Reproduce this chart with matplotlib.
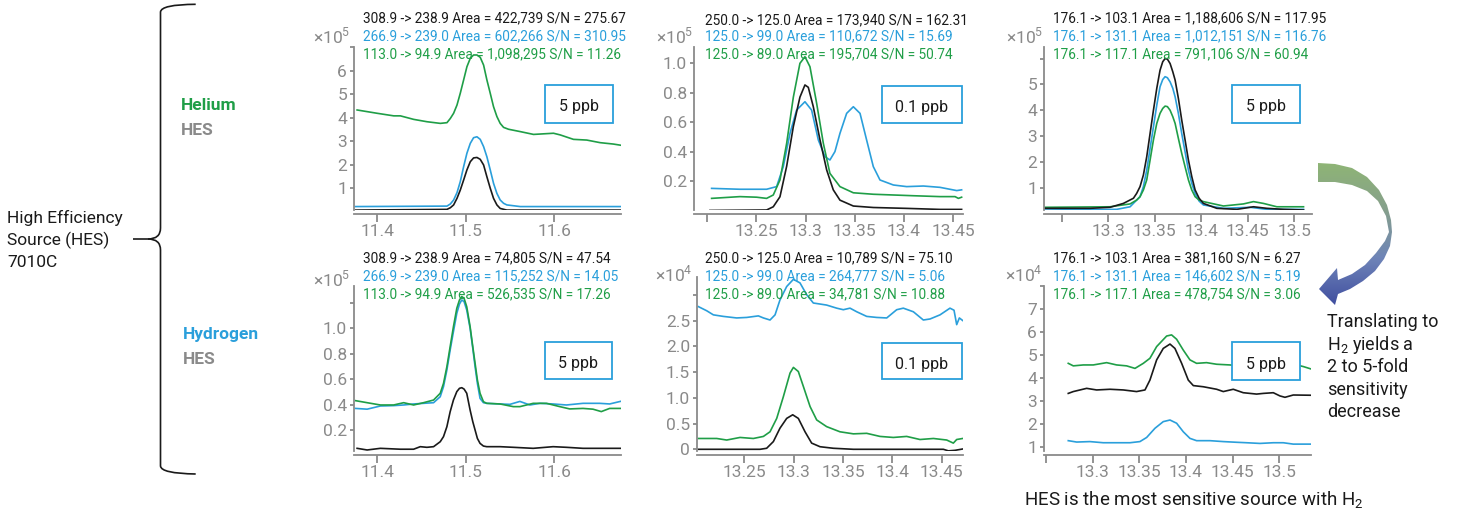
import matplotlib
matplotlib.use('Agg')
import matplotlib.pyplot as plt
import numpy as np
from matplotlib.path import Path
from matplotlib.patches import PathPatch, Rectangle, Polygon
from matplotlib.colors import LinearSegmentedColormap

plt.rcParams['font.family'] = ['Roboto', 'DejaVu Sans']
plt.rcParams['mathtext.fontset'] = 'custom'
plt.rcParams['mathtext.rm'] = 'Roboto'

W, H = 1461, 508
BLACK = '#1a1a1a'
BLUE = '#2a9fdb'
GREEN = '#1f9e47'
GRAY = '#8a8a8a'

# ---------------- data ----------------
# Helium, column 1 (x10^5)
he1_green_x = [11.3775, 11.4, 11.4188, 11.4263, 11.4413, 11.4563, 11.4713, 11.4788, 11.4826, 11.4863, 11.4901,
               11.4938, 11.4976, 11.5013, 11.5051, 11.5088, 11.5126, 11.5163, 11.5201, 11.5238, 11.5276, 11.5313,
               11.5351, 11.5388, 11.5426, 11.5482, 11.5614, 11.5764, 11.5989, 11.6064, 11.6214, 11.6364, 11.6514,
               11.6664, 11.6747]
he1_green_y = [4.32, 4.18, 4.07, 4.07, 3.92, 3.82, 3.75, 3.78, 3.96, 4.18, 4.53, 5.03, 5.60, 6.16, 6.52, 6.66, 6.66,
               6.56, 6.23, 5.60, 5.03, 4.46, 4.04, 3.75, 3.58, 3.50, 3.40, 3.28, 3.33, 3.26, 3.07, 3.04, 2.93, 2.87,
               2.82]
he1_blue_x = [11.3756, 11.4788, 11.4826, 11.4863, 11.4901, 11.4938, 11.4976, 11.5013, 11.5051, 11.5088, 11.5126,
              11.5163, 11.5201, 11.5238, 11.5276, 11.5313, 11.5351, 11.5388, 11.5426, 11.5463, 11.5614, 11.6747]
he1_blue_y = [0.21, 0.23, 0.32, 0.49, 0.80, 1.27, 1.91, 2.48, 2.90, 3.14, 3.18, 3.07, 2.76, 2.33, 1.77, 1.20, 0.77,
              0.49, 0.35, 0.28, 0.21, 0.21]
he1_black_x = [11.3756, 11.4788, 11.4826, 11.4863, 11.4901, 11.4938, 11.4976, 11.5013, 11.5051, 11.5088, 11.5126,
               11.5163, 11.5201, 11.5238, 11.5276, 11.5313, 11.5351, 11.5388, 11.5463, 11.6747]
he1_black_y = [0.06, 0.09, 0.16, 0.28, 0.56, 0.91, 1.34, 1.77, 2.12, 2.28, 2.30, 2.22, 1.98, 1.48, 0.99, 0.56, 0.28,
               0.13, 0.06, 0.06]

# Helium, column 2 (x10^5)
he2_black_x = [13.2027, 13.2603, 13.2671, 13.2739, 13.2807, 13.2875, 13.2942, 13.2993, 13.3027, 13.3078, 13.3146,
               13.3214, 13.3281, 13.3349, 13.3485, 13.3688, 13.4027, 13.4366, 13.4586]
he2_black_y = [0.0, 0.003, 0.025, 0.093, 0.30, 0.57, 0.77, 0.853, 0.837, 0.705, 0.48, 0.275, 0.14, 0.07, 0.03, 0.02,
               0.014, 0.007, 0.007]
he2_green_x = [13.2044, 13.2332, 13.2502, 13.2603, 13.2671, 13.2739, 13.2807, 13.2875, 13.2942, 13.2993, 13.3044,
               13.3112, 13.318, 13.3247, 13.3349, 13.3485, 13.3688, 13.3892, 13.4095, 13.4366, 13.4519, 13.4553, 13.4586]
he2_green_y = [0.082, 0.094, 0.09, 0.082, 0.105, 0.207, 0.456, 0.77, 1.0, 1.045, 0.977, 0.728, 0.456, 0.252, 0.162,
               0.12, 0.11, 0.105, 0.10, 0.094, 0.094, 0.082, 0.09]
he2_blue_x = [13.2044, 13.2332, 13.2603, 13.2705, 13.2773, 13.2841, 13.2908, 13.2993, 13.3061, 13.3129, 13.3197,
              13.3247, 13.3298, 13.3349, 13.3417, 13.3485, 13.3553, 13.3620, 13.3688, 13.3756, 13.3892, 13.4027,
              13.4197, 13.4366, 13.4536, 13.4586]
he2_blue_y = [0.15, 0.144, 0.144, 0.162, 0.298, 0.524, 0.682, 0.739, 0.682, 0.479, 0.365, 0.343, 0.40, 0.524, 0.66,
              0.705, 0.66, 0.479, 0.298, 0.207, 0.173, 0.162, 0.166, 0.157, 0.135, 0.14]

# Helium, column 3 (x10^5)
he3_black_x = [13.2321, 13.2805, 13.302, 13.3163, 13.3271, 13.3306, 13.3342, 13.3378, 13.3414, 13.345, 13.3486,
               13.3522, 13.3557, 13.3586, 13.3611, 13.3636, 13.3665, 13.3694, 13.3719, 13.3754, 13.379, 13.3826,
               13.3862, 13.3898, 13.3934, 13.3977, 13.4023, 13.4167, 13.4382, 13.4561, 13.4704, 13.4884, 13.5099]
he3_black_y = [0.2, 0.2, 0.24, 0.39, 0.59, 0.78, 1.04, 1.49, 2.2, 3.1, 4.0, 4.85, 5.55, 5.88, 6.0, 5.98, 5.81, 5.49,
               5.17, 4.46, 3.62, 2.85, 2.07, 1.43, 0.91, 0.59, 0.39, 0.2, 0.16, 0.26, 0.2, 0.16, 0.135]
he3_blue_x = [13.2321, 13.3091, 13.3235, 13.3306, 13.3342, 13.3378, 13.3414, 13.345, 13.3486, 13.3522, 13.3557,
              13.3586, 13.3611, 13.3636, 13.3665, 13.3694, 13.3719, 13.3754, 13.379, 13.3826, 13.3862, 13.3898,
              13.3934, 13.3977, 13.4023, 13.4238, 13.4525, 13.4704, 13.5099]
he3_blue_y = [0.135, 0.16, 0.26, 0.52, 0.65, 1.04, 1.68, 2.52, 3.36, 4.2, 4.91, 5.19, 5.30, 5.26, 5.10, 4.85, 4.52,
              3.88, 3.10, 2.39, 1.68, 1.17, 0.78, 0.48, 0.33, 0.2, 0.24, 0.16, 0.16]
he3_green_x = [13.2321, 13.302, 13.3235, 13.3306, 13.3342, 13.3378, 13.3414, 13.345, 13.3486, 13.3522, 13.3557,
               13.3586, 13.3611, 13.3636, 13.3665, 13.3694, 13.3719, 13.3754, 13.379, 13.3826, 13.3862, 13.3898,
               13.3934, 13.3977, 13.4023, 13.4238, 13.4453, 13.4561, 13.4668, 13.4812, 13.5099]
he3_green_y = [0.24, 0.26, 0.37, 0.52, 0.65, 0.91, 1.30, 2.07, 2.85, 3.49, 3.88, 4.07, 4.16, 4.14, 4.0, 3.75, 3.49,
               2.91, 2.33, 1.81, 1.30, 0.91, 0.65, 0.52, 0.46, 0.29, 0.37, 0.46, 0.39, 0.26, 0.26]

# Hydrogen, column 1 (x10^5)
h1_green_x = [11.3757, 11.3888, 11.4037, 11.4187, 11.43, 11.4412, 11.4524, 11.4637, 11.4712, 11.4749, 11.4787,
              11.4824, 11.4861, 11.4899, 11.4929, 11.4955, 11.4981, 11.5011, 11.5049, 11.5079, 11.5105, 11.5131,
              11.5161, 11.5199, 11.5236, 11.5386, 11.5536, 11.5610, 11.5760, 11.5910, 11.6060, 11.6172, 11.6322,
              11.6434, 11.6528, 11.6622, 11.6742]
h1_green_y = [0.431, 0.415, 0.397, 0.397, 0.415, 0.397, 0.415, 0.436, 0.489, 0.567, 0.698, 0.856, 1.013, 1.158,
              1.223, 1.25, 1.236, 1.17, 1.013, 0.856, 0.725, 0.594, 0.489, 0.423, 0.41, 0.405, 0.384, 0.384, 0.41,
              0.41, 0.384, 0.366, 0.37, 0.364, 0.345, 0.37, 0.37]
h1_blue_x = [11.3757, 11.3888, 11.4037, 11.4187, 11.43, 11.4412, 11.4524, 11.4637, 11.4712, 11.4749, 11.4787,
             11.4824, 11.4861, 11.4899, 11.4929, 11.4955, 11.4981, 11.5011, 11.5049, 11.5079, 11.5105, 11.5131,
             11.5161, 11.5199, 11.5236, 11.5386, 11.5498, 11.5610, 11.5723, 11.5835, 11.5985, 11.6135, 11.6322,
             11.6509, 11.6622, 11.6742]
h1_blue_y = [0.37, 0.364, 0.389, 0.392, 0.397, 0.405, 0.41, 0.415, 0.462, 0.541, 0.672, 0.829, 0.974, 1.118, 1.191,
             1.223, 1.21, 1.144, 1.0, 0.843, 0.698, 0.567, 0.449, 0.415, 0.41, 0.405, 0.402, 0.425, 0.397, 0.41,
             0.405, 0.397, 0.41, 0.41, 0.405, 0.425]
h1_black_x = [11.3775, 11.3888, 11.4037, 11.4262, 11.4412, 11.4487, 11.4562, 11.4637, 11.4712, 11.4749, 11.4787,
              11.4824, 11.4861, 11.4899, 11.4929, 11.4955, 11.4981, 11.5011, 11.5049, 11.5079, 11.5105, 11.5131,
              11.5161, 11.5199, 11.5236, 11.5386, 11.5536, 11.5760, 11.5985, 11.6135, 11.6322, 11.6509, 11.6742]
h1_black_y = [0.056, 0.043, 0.056, 0.049, 0.049, 0.069, 0.064, 0.069, 0.108, 0.148, 0.226, 0.344, 0.436, 0.502,
              0.528, 0.533, 0.522, 0.489, 0.357, 0.266, 0.2, 0.134, 0.095, 0.074, 0.069, 0.069, 0.064, 0.056, 0.069,
              0.064, 0.056, 0.056, 0.056]

# Hydrogen, column 2 (x10^4)
h2_blue_x = [13.2034, 13.2118, 13.2186, 13.2287, 13.2422, 13.2524, 13.2642, 13.2693, 13.276, 13.2811, 13.2861,
             13.2929, 13.2997, 13.3064, 13.3132, 13.3199, 13.3267, 13.3334, 13.3436, 13.3503, 13.3571, 13.3639,
             13.374, 13.3841, 13.3943, 13.4044, 13.4111, 13.4213, 13.4314, 13.4382, 13.4483, 13.4584, 13.4625,
             13.4652, 13.4679, 13.4713]
h2_blue_y = [2.77, 2.69, 2.61, 2.58, 2.55, 2.56, 2.59, 2.55, 2.51, 2.61, 2.90, 3.16, 3.30, 3.23, 3.0, 2.84, 2.82,
             2.80, 2.74, 2.71, 2.74, 2.67, 2.58, 2.56, 2.55, 2.71, 2.74, 2.67, 2.51, 2.53, 2.61, 2.74, 2.70, 2.42,
             2.55, 2.50]
h2_green_x = [13.2034, 13.222, 13.2321, 13.2456, 13.2591, 13.2693, 13.276, 13.2828, 13.2895, 13.2963, 13.2997,
              13.3047, 13.3098, 13.3166, 13.3233, 13.3334, 13.3469, 13.3605, 13.374, 13.3875, 13.401, 13.4145,
              13.4280, 13.4416, 13.4551, 13.4618, 13.4652, 13.4713]
h2_green_y = [0.21, 0.21, 0.18, 0.23, 0.21, 0.25, 0.34, 0.60, 1.02, 1.48, 1.59, 1.51, 1.22, 0.83, 0.57, 0.44, 0.34,
              0.30, 0.31, 0.25, 0.23, 0.25, 0.19, 0.21, 0.18, 0.12, 0.19, 0.21]
h2_black_x = [13.2034, 13.2659, 13.2726, 13.2794, 13.2861, 13.2929, 13.299, 13.3047, 13.3115, 13.3182, 13.3267,
              13.3402, 13.3605, 13.4145, 13.4517, 13.4568, 13.4635, 13.4713]
h2_black_y = [0.0, 0.0, 0.02, 0.15, 0.41, 0.60, 0.67, 0.60, 0.34, 0.12, 0.05, 0.02, 0.0, 0.0, 0.0, -0.03, -0.02, 0.006]

# Hydrogen, column 3 (x10^4)
h3_green_x = [13.2739, 13.2793, 13.29, 13.3007, 13.315, 13.3257, 13.3364, 13.3454, 13.3543, 13.3614, 13.3686,
              13.3793, 13.3846, 13.39, 13.3971, 13.4043, 13.4114, 13.4221, 13.4329, 13.4471, 13.4579, 13.5186,
              13.5257, 13.5336]
h3_green_y = [4.63, 4.52, 4.56, 4.56, 4.66, 4.56, 4.52, 4.41, 4.63, 4.85, 5.36, 5.82, 5.87, 5.68, 5.21, 4.78, 4.63,
              4.66, 4.59, 4.56, 4.52, 4.56, 4.49, 4.39]
h3_black_x = [13.2739, 13.2793, 13.2936, 13.3043, 13.3186, 13.3329, 13.3471, 13.3561, 13.3614, 13.3686, 13.3757,
              13.3829, 13.3882, 13.3954, 13.4025, 13.4079, 13.4186, 13.4329, 13.44, 13.4507, 13.4614, 13.4757,
              13.4829, 13.4936, 13.5007, 13.5061, 13.515, 13.5336]
h3_black_y = [3.32, 3.40, 3.54, 3.47, 3.50, 3.47, 3.40, 3.47, 3.90, 4.78, 5.28, 5.47, 5.28, 4.63, 3.90, 3.66, 3.61,
              3.50, 3.40, 3.50, 3.35, 3.29, 3.32, 3.35, 3.21, 3.15, 3.25, 3.24]
h3_blue_x = [13.2739, 13.2829, 13.2971, 13.3114, 13.3257, 13.34, 13.3507, 13.3579, 13.3668, 13.3757, 13.3829, 13.39,
             13.3971, 13.4043, 13.4114, 13.4257, 13.44, 13.4543, 13.465, 13.4793, 13.4936, 13.5043, 13.515, 13.5239,
             13.5336]
h3_blue_y = [1.26, 1.20, 1.22, 1.17, 1.17, 1.17, 1.22, 1.40, 1.80, 2.09, 2.16, 2.02, 1.65, 1.36, 1.26, 1.26, 1.22,
             1.19, 1.17, 1.14, 1.17, 1.17, 1.11, 1.11, 1.11]

# header annotations: black / blue / green transitions
he1_labels = ['308.9 -> 238.9 Area = 422,739 S/N = 275.67',
              '266.9 -> 239.0 Area = 602,266 S/N = 310.95',
              '113.0 -> 94.9 Area = 1,098,295 S/N = 11.26']
he2_labels = ['250.0 -> 125.0 Area = 173,940 S/N = 162.31',
              '125.0 -> 99.0 Area = 110,672 S/N = 15.69',
              '125.0 -> 89.0 Area = 195,704 S/N = 50.74']
he3_labels = ['176.1 -> 103.1 Area = 1,188,606 S/N = 117.95',
              '176.1 -> 131.1 Area = 1,012,151 S/N = 116.76',
              '176.1 -> 117.1 Area = 791,106 S/N = 60.94']
h1_labels = ['308.9 -> 238.9 Area = 74,805 S/N = 47.54',
             '266.9 -> 239.0 Area = 115,252 S/N = 14.05',
             '113.0 -> 94.9 Area = 526,535 S/N = 17.26']
h2_labels = ['250.0 -> 125.0 Area = 10,789 S/N = 75.10',
             '125.0 -> 99.0 Area = 264,777 S/N = 5.06',
             '125.0 -> 89.0 Area = 34,781 S/N = 10.88']
h3_labels = ['176.1 -> 103.1 Area = 381,160 S/N = 6.27',
             '176.1 -> 131.1 Area = 146,602 S/N = 5.19',
             '176.1 -> 117.1 Area = 478,754 S/N = 3.06']

conc_labels = ['5 ppb', '0.1 ppb', '5 ppb', '5 ppb', '0.1 ppb', '5 ppb']
exponents = ['5', '5', '5', '5', '4', '4']

x_ticks_11 = [11.4, 11.5, 11.6]
x_labels_11 = ['11.4', '11.5', '11.6']
x_ticks_13a = [13.2, 13.25, 13.3, 13.35, 13.4, 13.45]
x_labels_13a = ['', '13.25', '13.3', '13.35', '13.4', '13.45']
x_ticks_13b = [13.25, 13.3, 13.35, 13.4, 13.45, 13.5]
x_labels_13b = ['', '13.3', '13.35', '13.4', '13.45', '13.5']
x_ticks_13c = [13.25, 13.3, 13.35, 13.4, 13.45]
x_labels_13c = ['13.25', '13.3', '13.35', '13.4', '13.45']

y_ticks = [[1, 2, 3, 4, 5, 6, 7], [0.2, 0.4, 0.6, 0.8, 1.0], [1, 2, 3, 4, 5, 6],
           [0.2, 0.4, 0.6, 0.8, 1.0, 1.2], [0, 0.5, 1.0, 1.5, 2.0, 2.5, 3.0], [1, 2, 3, 4, 5, 6, 7, 8]]
y_labels = [['1', '2', '3', '4', '5', '6', ''], ['0.2', '0.4', '0.6', '0.8', '1.0'], ['1', '2', '3', '4', '5', ''],
            ['0.2', '0.4', '0.6', '0.8', '1.0', ''], ['0', '0.5', '1.0', '1.5', '2.0', '2.5', ''],
            ['1', '2', '3', '4', '5', '6', '7', '']]

# ---------------- figure ----------------
fig = plt.figure(figsize=(W / 100, H / 100), dpi=100)

# pixel boxes (left, right, top, bottom) for each panel
panel_px = [(354, 621, 47, 210), (694, 963, 47, 210), (1044, 1312, 47, 210),
            (354, 621, 286, 451), (697, 963, 277, 451), (1044, 1311, 286, 451)]
xlims = [(11.374, 11.675), (13.1865, 13.46), (13.231, 13.519),
         (11.374, 11.675), (13.202, 13.4716), (13.2479, 13.534)]
ylims = [(0.064, 7.0), (0.003, 1.111), (0.135, 6.45), (0.035, 1.333), (-0.033, 3.345), (0.81, 8.0)]
xt = [(x_ticks_11, x_labels_11), (x_ticks_13a, x_labels_13a), (x_ticks_13b, x_labels_13b),
      (x_ticks_11, x_labels_11), (x_ticks_13c, x_labels_13c), (x_ticks_13b, x_labels_13b)]
series = [
    [(he1_blue_x, he1_blue_y, BLUE), (he1_green_x, he1_green_y, GREEN), (he1_black_x, he1_black_y, BLACK)],
    [(he2_blue_x, he2_blue_y, BLUE), (he2_green_x, he2_green_y, GREEN), (he2_black_x, he2_black_y, BLACK)],
    [(he3_blue_x, he3_blue_y, BLUE), (he3_green_x, he3_green_y, GREEN), (he3_black_x, he3_black_y, BLACK)],
    [(h1_blue_x, h1_blue_y, BLUE), (h1_green_x, h1_green_y, GREEN), (h1_black_x, h1_black_y, BLACK)],
    [(h2_blue_x, h2_blue_y, BLUE), (h2_green_x, h2_green_y, GREEN), (h2_black_x, h2_black_y, BLACK)],
    [(h3_blue_x, h3_blue_y, BLUE), (h3_green_x, h3_green_y, GREEN), (h3_black_x, h3_black_y, BLACK)],
]

for i, (l, r, t, b) in enumerate(panel_px):
    ax = fig.add_axes([l / W, 1 - b / H, (r - l) / W, (b - t) / H])
    for xs, ys, c in series[i]:
        ax.plot(xs, ys, color=c, lw=1.2, solid_joinstyle='round')
    ax.set_xlim(*xlims[i])
    ax.set_ylim(*ylims[i])
    ax.set_xticks(xt[i][0])
    ax.set_xticklabels(xt[i][1])
    ax.set_yticks(y_ticks[i])
    ax.set_yticklabels(y_labels[i])
    for s in ['top', 'right']:
        ax.spines[s].set_visible(False)
    for s in ['left', 'bottom']:
        ax.spines[s].set_color(GRAY)
        ax.spines[s].set_linewidth(1.3)
    ax.spines['bottom'].set_position(('outward', 3))
    ax.tick_params(axis='x', colors=GRAY, labelsize=12.5, length=6, width=1.3, pad=1)
    ax.tick_params(axis='y', colors=GRAY, labelsize=12.5, length=3, width=1.3, pad=2)
    ax.patch.set_alpha(0)

# overlay in pixel coordinates for annotations
ov = fig.add_axes([0, 0, 1, 1])
ov.axis('off')

header_x = [363, 705, 1053, 363, 705, 1053]
header_base = [[22, 40.5, 58.5], [24, 40.5, 58.5], [22, 40.5, 58.5],
               [262.5, 280.5, 298.5], [262, 280.5, 298.5], [262.5, 280.5, 298.5]]
all_labels = [he1_labels, he2_labels, he3_labels, h1_labels, h2_labels, h3_labels]
for i in range(6):
    for j, c in enumerate([BLACK, BLUE, GREEN]):
        ov.text(header_x[i], header_base[i][j], all_labels[i][j], color=c, fontsize=9.8,
                ha='left', va='baseline', zorder=6)

exp_x = [350, 693, 1043, 350, 693, 1043]
exp_base = [43.5, 43.5, 43.5, 286.5, 281.5, 281.5]
for i in range(6):
    ov.text(exp_x[i], exp_base[i], r'×10$^{\mathregular{%s}}$' % exponents[i], color=GRAY, fontsize=12.5,
            ha='right', va='baseline')

box_x = [(545, 613), (882, 962), (1232, 1300), (545, 612), (882, 962), (1232, 1300)]
box_y = [(85, 123), (86, 123), (85, 123), (342, 379), (343, 379), (342, 380)]
for i in range(6):
    x0, x1 = box_x[i]
    y0, y1 = box_y[i]
    ov.add_patch(Rectangle((x0, y0), x1 - x0, y1 - y0, facecolor='white', edgecolor=BLUE, lw=1.3, zorder=4))
    ov.text((x0 + x1) / 2, (y0 + y1) / 2 + 7.5, conc_labels[i], color=BLACK, fontsize=11.5,
            ha='center', va='baseline', zorder=5)

# left labels
ov.text(181, 110, 'Helium', color=GREEN, fontsize=12.5, fontweight='bold', va='baseline')
ov.text(181, 135, 'HES', color=GRAY, fontsize=12.5, fontweight='bold', va='baseline')
ov.text(183, 339.5, 'Hydrogen', color=BLUE, fontsize=12.5, fontweight='bold', va='baseline')
ov.text(183, 364, 'HES', color=GRAY, fontsize=12.5, fontweight='bold', va='baseline')
for yb, s in zip([223.3, 245, 266.7], ['High Efficiency', 'Source (HES)', '7010C']):
    ov.text(7, yb, s, color=BLACK, fontsize=12.5, va='baseline')

# brace
top = Path([(195.7, 4.3), (161, 4.5), (160.5, 12), (160.5, 228), (160.5, 239), (148, 239), (133, 239)],
           [Path.MOVETO, Path.CURVE3, Path.CURVE3, Path.LINETO, Path.CURVE3, Path.CURVE3, Path.LINETO])
bot = Path([(148, 239), (160.5, 239), (160.5, 250), (160.5, 466), (161, 473.5), (195.7, 474)],
           [Path.MOVETO, Path.CURVE3, Path.CURVE3, Path.LINETO, Path.CURVE3, Path.CURVE3])
for p in (top, bot):
    ov.add_patch(PathPatch(p, facecolor='none', edgecolor=BLACK, lw=1.2))

# right notes
right_lines = ['Translating to', r'H$_{\mathregular{2}}$ yields a', '2 to 5-fold', 'sensitivity', 'decrease']
for yb, s in zip([327.3, 350, 372.3, 395, 416.7], right_lines):
    ov.text(1327, yb, s, color=BLACK, fontsize=13, va='baseline')
ov.text(1024, 505.5, r'HES is the most sensitive source with H$_{\mathregular{2}}$', color=BLACK,
        fontsize=13.5, va='baseline')

# curved gradient arrow
outline = [(1318, 163), (1335, 164), (1352, 168), (1367, 177), (1379, 190), (1387, 205), (1391, 220),
           (1392, 232), (1390, 246), (1384, 259), (1375, 271), (1363, 281), (1350, 289), (1338, 294),
           (1335, 305), (1319, 289), (1337, 268), (1338, 280), (1352, 274), (1365, 265), (1376, 253),
           (1385, 241), (1389, 232), (1386, 216), (1378, 201), (1367, 191), (1352, 185), (1335, 182), (1318, 182)]
arrow_patch = Polygon(outline, closed=True, facecolor='none', edgecolor='none')
ov.add_patch(arrow_patch)
cmap = LinearSegmentedColormap.from_list('arr', ['#8fb674', '#86a08c', '#6e84b8', '#3d4b9e'])
grad = np.linspace(0, 1, 256).reshape(-1, 1)
im = ov.imshow(grad, extent=(1310, 1400, 308, 160), cmap=cmap, aspect='auto', zorder=3)
im.set_clip_path(arrow_patch)

ov.set_xlim(0, W)
ov.set_ylim(H, 0)

fig.savefig('out.png', dpi=100)
